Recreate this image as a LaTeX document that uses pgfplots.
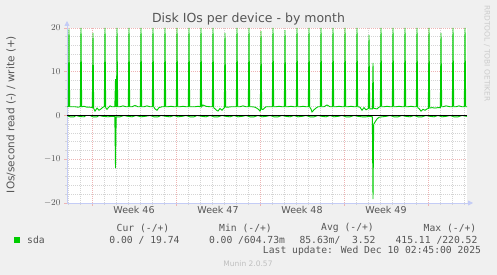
\documentclass[border=0pt]{standalone}
\usepackage{pgfplots}
\pgfplotsset{compat=1.18}
\usetikzlibrary{arrows.meta}
\usepackage{fontspec}
\setmainfont{DejaVu Sans}
\newfontfamily\mono{DejaVu Sans Mono}
\definecolor{bgc}{HTML}{F0F0F0}
\definecolor{txt}{HTML}{555555}
\definecolor{mgreen}{HTML}{00CC00}
\definecolor{axc}{HTML}{C4CCF6}
\definecolor{mgrid}{HTML}{EDB4B4}
\definecolor{ngrid}{HTML}{D4D4D4}
\begin{document}
\begin{tikzpicture}[x=1pt,y=1pt]
\fill[bgc] (0,0) rectangle (497,275);
\begin{axis}[
  at={(67pt,72pt)}, anchor=south west,
  scale only axis, width=400pt, height=175pt,
  xmin=67, xmax=467, ymin=-20, ymax=20,
  axis background/.style={fill=white},
  axis lines=left,
  x axis line style={draw=axc, line width=0.8pt, -{Triangle[length=5pt,width=5pt]}, shorten >=-6pt},
  y axis line style={draw=axc, line width=0.8pt, -{Triangle[length=5pt,width=5pt]}, shorten >=-7pt},
  xtick={92,176,260,344,428}, xticklabels={},
  minor xtick={68,80,...,464},
  extra x ticks={134,218,302,386},
  extra x tick labels={Week 46,Week 47,Week 48,Week 49},
  extra x tick style={grid=none, major tick length=0pt},
  ytick={-20,-10,0,10,20},
  minor ytick={-18,-16,...,18},
  grid=both,
  major grid style={draw=mgrid, line width=0.5pt, dash pattern=on 1pt off 1pt},
  minor grid style={draw=ngrid, line width=0.5pt, dash pattern=on 1pt off 1pt},
  tick align=outside,
  major tick length=3pt, minor tick length=2pt,
  major tick style={draw=mgrid, line width=0.5pt},
  minor tick style={draw=ngrid, line width=0.5pt},
  ticklabel style={font=\fontsize{9.5}{11}\selectfont, text=txt},
  clip=true,
]
\addplot[mgreen, line width=0.9pt] coordinates {
(67,2.0)(68.3,2.0)(69,19.7)(69.7,2.0)(72,2.0)(75,2.0)(78,1.9)(80.3,2.0)(81,20)(81.7,2.0)(84,2.1)(87,1.9)(90,1.9)(92.3,1.8)(93,18.9)(93.7,1.6)(95,1.0)(97,1.7)(99,1.2)(101,1.5)(103,1.9)(104.3,2.0)(105,20)(105.7,1.8)(107,1.4)(108,1.7)(110,2.2)(112,2.0)(114.8,2.0)(115.5,8.3)(116.2,2.0)(116.5,2.0)(117,20)(117.7,2.0)(120,2.0)(123,2.2)(126,2.0)(128.3,2.0)(129,20)(129.7,2.0)(132,2.0)(135,2.3)(138,2.0)(140.3,2.0)(141,20)(141.7,2.0)(144,2.0)(147,2.2)(150,2.0)(152.3,2.0)(153,20)(153.7,2.0)(155,1.5)(157,1.2)(159,1.8)(162,2.0)(164.3,2.0)(165,20)(165.7,2.0)(168,2.0)(171,2.1)(174,2.0)(176.3,2.0)(177,20)(177.7,2.0)(180,2.0)(183,2.1)(186,2.0)(188.3,2.0)(189,20)(189.7,2.0)(192,2.0)(195,2.0)(198,2.1)(200.3,2.0)(201,20)(201.7,2.0)(203,2.4)(206,2.1)(210,2.0)(212.3,2.0)(213,20)(213.7,1.8)(216,1.3)(218,1.0)(220,1.6)(222,1.2)(224.3,1.8)(225,18.9)(225.7,1.9)(228,1.9)(231,2.0)(234,2.0)(236.3,2.0)(237,20)(237.7,2.0)(240,2.0)(243,2.2)(246,2.0)(248.3,2.0)(249,20)(249.7,2.0)(252,2.0)(255,1.9)(258,1.5)(260,1.0)(260.3,1.1)(261,19.3)(261.7,1.4)(263,1.4)(266,2.0)(270,2.0)(272.3,2.0)(273,20)(273.7,2.0)(276,2.0)(279,2.1)(282,2.0)(284.3,2.0)(285,19.5)(285.7,2.0)(288,2.0)(291,2.1)(294,2.0)(296.3,2.0)(297,20)(297.7,2.0)(300,2.0)(303,2.1)(306,2.0)(308.3,2.0)(309,20)(309.7,1.9)(311,1.5)(312,0.8)(314,1.3)(316,1.7)(318,2.0)(320.3,2.0)(321,20)(321.7,2.0)(324,2.0)(327,2.4)(330,2.0)(332.3,2.0)(333,20)(333.7,2.0)(336,2.0)(339,2.1)(342,2.0)(344.3,2.0)(345,20)(345.7,2.0)(348,2.0)(351,2.1)(354,2.0)(356.3,2.0)(357,20)(357.7,2.0)(360,1.9)(362,1.2)(364,1.8)(366,1.3)(368.3,1.6)(369,18.4)(369.7,1.5)(371,1.5)(372.3,1.5)(373,12)(373.7,1.6)(375,1.6)(377,1.5)(379,1.9)(380.3,2.0)(381,20)(381.7,2.0)(384,2.0)(387,2.1)(390,2.0)(392.3,2.0)(393,20)(393.7,2.0)(396,2.0)(399,2.1)(402,2.0)(404.3,2.0)(405,20)(405.7,2.0)(408,2.0)(411,2.1)(414,2.0)(416.3,2.0)(417,20)(417.7,1.8)(419,1.6)(421,1.0)(423,1.4)(425,1.2)(427,1.5)(428.3,1.6)(429,20)(429.7,1.7)(432,1.8)(435,1.7)(438,1.8)(440.3,1.8)(441,18.9)(441.7,2.0)(443,2.0)(446,2.2)(450,2.0)(452.3,2.0)(453,20)(453.7,2.0)(456,2.0)(459,2.2)(462,2.0)(464.3,2.0)(465,20)(465.7,2.0)(467,2.0)
};
\addplot[mgreen, line width=0.9pt] coordinates {
(67,0)(70,-0.3)(74,-0.3)(76,0)(80,-0.25)(84,-0.3)(86,0)(90,0)(93,-0.3)(97,-0.3)(99,0)(103,-0.2)(108,-0.3)(112,-0.2)(114.8,-0.2)(115.5,-12)(116.2,-0.3)(120,-0.3)(124,0)(128,-0.2)(132,-0.3)(136,0)(141,-0.3)(145,-0.2)(150,0)(154,-0.3)(158,-0.3)(161,0)(166,-0.2)(170,-0.3)(174,0)(178,-0.3)(182,-0.2)(186,0)(190,-0.3)(194,-0.3)(197,0)(202,-0.2)(206,-0.3)(210,0)(214,-0.3)(218,-0.3)(222,0)(226,-0.2)(230,-0.3)(234,0)(238,-0.3)(242,-0.2)(246,0)(250,-0.3)(254,-0.3)(258,0)(262,-0.3)(266,-0.2)(270,0)(274,-0.3)(278,-0.3)(282,0)(286,-0.2)(290,-0.3)(294,0)(298,-0.3)(302,-0.2)(306,0)(310,-0.3)(314,-0.3)(318,0)(322,-0.2)(326,-0.3)(330,0)(334,-0.3)(338,-0.2)(342,0)(346,-0.3)(350,-0.3)(354,0)(358,-0.2)(362,-0.3)(366,-0.3)(370,-0.2)(372.3,-0.3)(373,-19.1)(373.7,-2.0)(375,-1.5)(377,-0.8)(379,-0.4)(382,-0.3)(386,-0.2)(390,0)(394,-0.3)(398,-0.3)(402,0)(406,-0.2)(410,-0.3)(414,0)(418,-0.3)(422,-0.3)(426,0)(430,-0.2)(434,-0.3)(438,0)(442,-0.3)(446,-0.2)(450,0)(454,-0.3)(458,-0.3)(462,0)(467,-0.2)
};
\addplot[black, line width=0.8pt] coordinates {(67,0)(467,0)};
\end{axis}
% title and labels
\node[text=txt, font=\fontsize{12.5}{14}\selectfont] at (248.5,256) {Disk IOs per device - by month};
\node[text=txt, font=\fontsize{10.5}{12}\selectfont, rotate=90] at (11,160.5) {IOs/second read (-) / write (+)};
\node[text=black!20, font=\fontsize{7.5}{9}\selectfont, rotate=-90] at (487,221.5) {RRDTOOL / TOBI OETIKER};
% legend
\fill[mgreen] (14,32) rectangle (20,38);
\begin{scope}[every node/.style={text=txt, font=\mono\fontsize{9.7}{11}\selectfont, inner sep=0pt}]
\node[anchor=west] at (27,35) {sda};
\node at (143,47) {Cur (-/+)};
\node at (144.5,35) {0.00 / 19.74};
\node at (245.5,47) {Min (-/+)};
\node at (247,35) {0.00 /604.73m};
\node at (347.5,47) {Avg (-/+)};
\node at (337.5,35) {85.63m/\ \ 3.52};
\node at (450,47) {Max (-/+)};
\node at (436.5,35) {415.11 /220.52};
\node at (372,24) {Last update: Wed Dec 10 02:45:00 2025};
\end{scope}
\node[text=black!25, font=\fontsize{7.5}{9}\selectfont] at (248,11) {Munin 2.0.57};
\end{tikzpicture}
\end{document}
